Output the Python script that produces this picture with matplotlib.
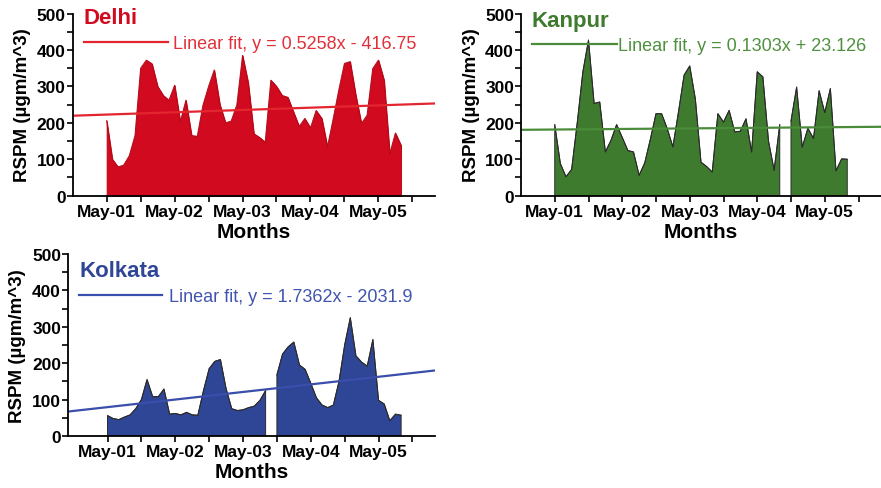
import numpy as np
import matplotlib.pyplot as plt

plt.rcParams['font.family'] = ['Liberation Sans', 'DejaVu Sans']

# monthly RSPM values from May-01 onwards (month number 1216 = May-01)
month0 = 1216
delhi = [206, 100, 79, 84, 110, 165, 350, 372, 362, 300, 275, 262, 303, 203,
         262, 165, 163, 248, 300, 345, 250, 200, 205, 250, 385, 310, 170, 160,
         147, 317, 300, 275, 270, 230, 190, 212, 186, 234, 212, 134, 210, 290,
         363, 368, 276, 198, 221, 349, 372, 317, 115, 172, 138]
kanpur = [195, 88, 52, 72, 200, 340, 427, 253, 257, 120, 152, 195, 160, 124,
          120, 56, 90, 155, 225, 225, 184, 134, 230, 331, 356, 265, 92, 80,
          65, 225, 202, 234, 175, 177, 211, 120, 340, 326, 150, 70, 195, np.nan,
          205, 298, 133, 185, 157, 288, 228, 294, 68, 101, 100]
kolkata = [56, 48, 45, 52, 58, 75, 100, 155, 108, 108, 129, 60, 62, 58,
           65, 58, 57, 125, 185, 205, 210, 130, 75, 70, 72, 78, 82, 98,
           125, np.nan, 168, 225, 245, 258, 195, 183, 145, 105, 85, 78, 85, 150,
           250, 325, 220, 203, 192, 265, 98, 88, 42, 60, 57]

# linear fits (slope, intercept) against month number
fits = {'Delhi': (0.5258, -416.75), 'Kanpur': (0.1303, 23.126), 'Kolkata': (1.7362, -2031.9)}
fit_text = {'Delhi': 'Linear fit, y = 0.5258x - 416.75',
            'Kanpur': 'Linear fit, y = 0.1303x + 23.126',
            'Kolkata': 'Linear fit, y = 1.7362x - 2031.9'}

tick_labels = ['May-01', 'May-02', 'May-03', 'May-04', 'May-05']

W, H = 881, 489
fig = plt.figure(figsize=(W / 100, H / 100), dpi=100)


def px_axes(left, right, top, bottom):
    return fig.add_axes([left / W, 1 - bottom / H, (right - left) / W, (bottom - top) / H])


panels = [
    # name, values, fill, edge, line, text colour, axes box, xlim, title y, legend y, handle len, text pad
    ('Delhi', delhi, '#d20a1f', '#b80818', '#e3252f', '#e0303a',
     (72.7, 435, 14.5, 196.7), (1210, 1274), 0.95, 0.835, 4.65, 0.28),
    ('Kanpur', kanpur, '#3f7b2f', '#2b2b2b', '#4a8c3a', '#4f9140',
     (521, 881, 14.5, 196.7), (1210, 1274), 0.93, 0.824, 4.7, 0.1),
    ('Kolkata', kolkata, '#2f4697', '#2b2b2b', '#3a4eab', '#4155ad',
     (68, 435, 255, 437), (1209, 1274), 0.88, 0.765, 4.6, 0.4),
]

x = month0 + np.arange(len(delhi))

for name, vals, fc, ec, lc, tc, box, xlim, ty, ly, hl, pad in panels:
    ax = px_axes(*box)
    v = np.array(vals, dtype=float)
    ax.fill_between(x, 0, v, facecolor=fc, edgecolor=ec, linewidth=0.7)
    ax.plot(x, v, color=ec, linewidth=0.7)

    a, b = fits[name]
    xf = np.array(xlim, dtype=float)
    ax.plot(xf, a * xf + b, color=lc, linewidth=1.6, label=fit_text[name])

    ax.set_xlim(*xlim)
    ax.set_ylim(0, 500)
    ax.set_yticks(np.arange(0, 501, 100))
    ax.set_yticks(np.arange(50, 500, 100), minor=True)
    ax.set_xticks(month0 + 12 * np.arange(5))
    ax.set_xticklabels(tick_labels)
    ax.set_xticks(month0 + 6 + 12 * np.arange(5), minor=True)
    ax.tick_params(which='both', direction='out', length=4, width=1.2)
    for lab in ax.get_xticklabels() + ax.get_yticklabels():
        lab.set_fontweight('bold')
        lab.set_fontsize(12.5)
    ax.tick_params(axis='x', pad=2)
    ax.tick_params(axis='y', pad=1)
    for s in ['top', 'right']:
        ax.spines[s].set_visible(False)
    for s in ['left', 'bottom']:
        ax.spines[s].set_linewidth(1.3)

    ax.set_xlabel('Months', fontsize=15, fontweight='bold', labelpad=2)
    ax.set_ylabel('RSPM (µgm/m^3)', fontsize=13.5, fontweight='bold', labelpad=4)

    ax.text(0.03, ty, name, transform=ax.transAxes, color=fc, fontsize=16,
            fontweight='bold', va='baseline', ha='left')
    leg = ax.legend(loc='center left', bbox_to_anchor=(0.03, ly), frameon=False,
                    fontsize=13, handlelength=hl, handletextpad=pad,
                    borderpad=0, borderaxespad=0)
    for t in leg.get_texts():
        t.set_color(tc)

fig.savefig('out.png', dpi=100)
